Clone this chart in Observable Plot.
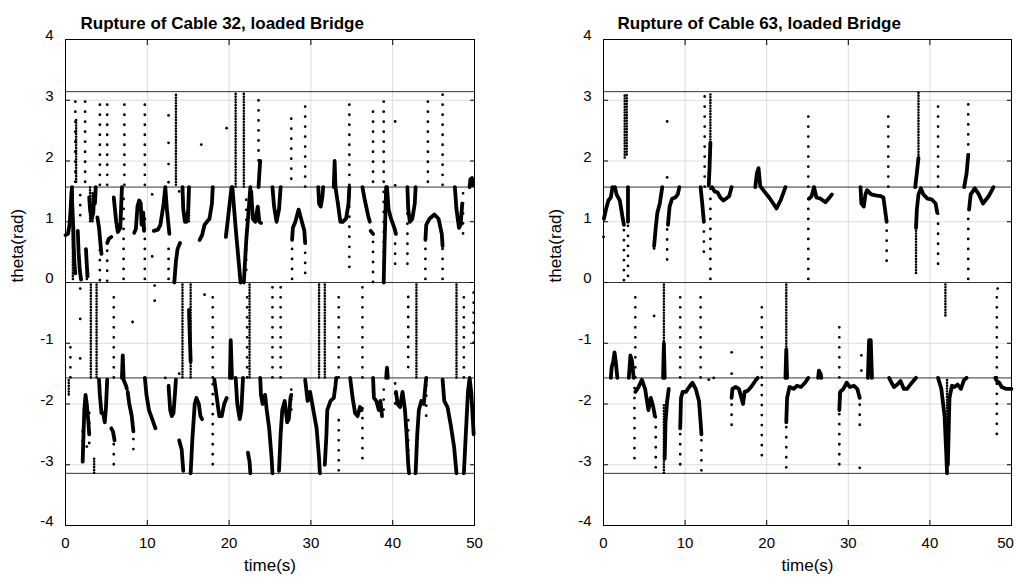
<!DOCTYPE html>
<html><head><meta charset="utf-8">
<script src="https://cdn.jsdelivr.net/npm/d3@7"></script>
<script src="https://cdn.jsdelivr.net/npm/@observablehq/plot@0.6"></script>
<style>
body{margin:0;background:#fff;font-family:"Liberation Sans",Arial,sans-serif;}
#wrap{display:flex;width:1016px;height:584px;overflow:hidden;}
</style></head><body><div id="wrap"></div>
<script>
const xTicks = [0, 10, 20, 30, 40, 50];
const yTicks = [-4, -3, -2, -1, 0, 1, 2, 3, 4];
const refLines = [-Math.PI, -Math.PI / 2, 0, Math.PI / 2, Math.PI];
const titles = ["Rupture of Cable 32, loaded Bridge", "Rupture of Cable 63, loaded Bridge"];
const xLabel = "time(s)";
const yLabel = "theta(rad)";

// ---- Cable 32: continuous traces [t, theta]
const curves32 = [
  [[0,0.78],[0.3,0.8],[0.5,0.95],[0.6,1.15],[0.7,1.4],[0.8,1.57]],
  [[0.75,1.5],[0.85,1.2],[0.95,0.9],[1.0,0.6],[1.1,0.3],[1.2,0.15]],
  [[1.5,0.85],[1.6,0.5],[1.75,0.2],[1.9,0.05]],
  [[2.5,0.55],[2.6,0.3],[2.7,0.1]],
  [[2.9,1.4],[3.0,1.2],[3.2,1.05],[3.4,1.15],[3.5,1.45],[3.6,1.3],[3.7,1.57]],
  [[3.9,1.07],[4.1,0.9],[4.3,0.6],[4.4,0.47]],
  [[5.1,0.65],[5.3,0.72],[5.6,0.75]],
  [[5.9,1.4],[6.2,1.0],[6.4,0.83],[6.7,0.9],[6.9,1.57]],
  [[8.4,0.82],[8.6,0.88],[8.8,1.25],[9.0,1.35],[9.2,1.3],[9.3,0.95],[9.5,1.15],[9.6,0.85]],
  [[10.8,0.85],[11.3,0.87],[11.6,0.95],[12.0,1.3],[12.2,1.57],[12.4,1.2],[12.7,0.8]],
  [[13.3,0.0],[13.5,0.35],[13.7,0.55],[14.0,0.65]],
  [[14.3,1.57],[14.4,1.2],[14.6,1.0],[14.8,1.0],[15.0,1.2],[15.1,1.57]],
  [[16.4,0.7],[16.7,0.78],[17.0,0.95],[17.3,1.0],[17.6,1.05],[17.9,1.3],[18.0,1.57]],
  [[19.6,0.75],[19.9,1.1],[20.3,1.57]],
  [[20.4,1.57],[20.8,0.9],[21.2,0.3],[21.4,0.0]],
  [[21.8,0.0],[22.1,0.7],[22.4,1.2],[22.6,1.57]],
  [[22.7,1.5],[22.9,1.05],[23.2,1.0],[23.5,1.25],[23.7,1.0],[23.9,0.98]],
  [[25.3,1.57],[25.5,1.25],[25.8,1.0],[26.1,1.2],[26.3,1.57]],
  [[27.7,0.7],[27.8,0.9],[28.1,1.0],[28.5,1.2],[28.9,1.0],[29.2,0.85],[29.3,0.65]],
  [[30.9,1.57],[31.0,1.3],[31.2,1.25],[31.4,1.4],[31.5,1.57]],
  [[33.0,1.57],[33.3,1.3],[33.6,1.0],[33.9,1.0],[34.3,1.05],[34.6,1.3],[34.7,1.57]],
  [[36.3,1.57],[36.6,1.35],[37.0,1.1],[37.2,1.0]],
  [[37.3,0.85],[37.6,0.8]],
  [[38.9,0.0],[39.0,0.6],[39.2,1.57]],
  [[39.3,1.57],[39.5,1.2],[39.8,1.05],[40.2,0.9],[40.4,0.8]],
  [[41.8,1.57],[41.9,1.2],[42.1,1.0],[42.4,1.05],[42.7,1.3],[42.8,1.57]],
  [[44.0,0.7],[44.1,0.95],[44.5,1.05],[45.1,1.12],[45.6,1.05],[46.0,0.8],[46.1,0.6]],
  [[47.6,1.57],[47.8,1.2],[48.1,0.9],[48.3,0.95],[48.5,1.3]],
  [[23.6,1.57],[23.7,1.8],[23.8,2.0]],
  [[32.8,1.57],[32.9,2.0],[33.0,1.57]],
  [[49.4,1.57],[49.5,1.7],[49.7,1.72],[49.8,1.6]],
  [[6.9,-1.57],[7.0,-1.2],[7.1,-1.57]],
  [[20.1,-1.57],[20.2,-0.95],[20.35,-1.57]],
  [[15.1,-0.45],[15.2,-0.9],[15.3,-1.3]],
  [[39.2,-1.57],[39.3,-1.4],[39.4,-1.57]],
  [[2.1,-2.95],[2.2,-2.5],[2.3,-2.1],[2.45,-1.85],[2.6,-2.0],[2.8,-2.3],[2.9,-2.5]],
  [[4.1,-1.6],[4.2,-1.85],[4.4,-2.15],[4.6,-2.15],[4.8,-2.3],[4.95,-2.05],[5.1,-1.6]],
  [[5.6,-2.4],[5.8,-2.45],[6.0,-2.6]],
  [[7.1,-1.6],[7.4,-1.7],[7.5,-1.75]],
  [[7.6,-1.8],[7.8,-2.0],[8.1,-2.2],[8.3,-2.45]],
  [[9.7,-1.57],[9.9,-1.85],[10.2,-2.1],[10.6,-2.25],[11.0,-2.4]],
  [[12.6,-1.7],[12.8,-2.1],[13.0,-2.2],[13.2,-2.15],[13.4,-1.8],[13.5,-1.6]],
  [[13.9,-2.6],[14.2,-2.75],[14.4,-3.1]],
  [[15.3,-3.14],[15.5,-2.6],[15.8,-2.0],[16.0,-1.9],[16.3,-2.0],[16.5,-2.2],[16.7,-2.25]],
  [[18.2,-1.6],[18.5,-1.9],[18.8,-2.2],[19.1,-2.2],[19.4,-2.0],[19.7,-1.9]],
  [[20.8,-1.57],[21.0,-2.0],[21.3,-2.25],[21.5,-2.1],[21.7,-1.57]],
  [[22.3,-2.8],[22.5,-2.95],[22.6,-3.14]],
  [[23.8,-1.57],[23.9,-1.85],[24.1,-2.0],[24.4,-1.85],[24.6,-2.1],[24.9,-2.4],[25.2,-2.9],[25.3,-3.14]],
  [[26.1,-3.1],[26.3,-2.5],[26.5,-2.1],[26.8,-1.95],[27.1,-2.3],[27.3,-2.25],[27.5,-1.9],[27.6,-1.85]],
  [[29.3,-1.6],[29.6,-1.95],[29.9,-1.8],[30.3,-2.1],[30.7,-2.4],[31.0,-2.9],[31.1,-3.14]],
  [[31.7,-3.0],[31.9,-2.5],[32.0,-2.1],[32.4,-1.95],[32.8,-1.9],[33.0,-1.7],[33.1,-1.57]],
  [[34.8,-1.57],[35.1,-1.9],[35.4,-2.15],[35.7,-2.2],[36.0,-2.05],[36.2,-2.1]],
  [[37.6,-1.57],[37.7,-1.9],[38.0,-1.95],[38.3,-2.1],[38.5,-1.95],[38.7,-2.2]],
  [[40.4,-1.8],[40.6,-2.0],[40.9,-2.05],[41.2,-1.8],[41.5,-2.1],[41.7,-2.5],[41.9,-3.0],[42.0,-3.14]],
  [[42.8,-3.14],[43.0,-2.5],[43.2,-2.1],[43.5,-1.95],[43.8,-2.0],[44.0,-1.7],[44.1,-1.57]],
  [[46.1,-1.6],[46.3,-1.95],[46.7,-2.05],[47.1,-2.35],[47.5,-2.7],[47.8,-3.14]],
  [[48.7,-3.14],[48.9,-2.6],[49.2,-1.8],[49.4,-1.57],[49.6,-1.8],[49.9,-2.5]]
];
// sampled dot columns [t, from, to]
const sparse32 = [
  [1.2,1.65,3.1],[2.4,1.65,3.05],[4.2,1.6,2.95],[5.1,1.6,3.0],[7.2,1.6,2.95],[9.7,1.6,3.0],
  [23.6,2.0,3.0],[27.6,1.7,2.75],[29.3,1.57,3.05],[34.7,1.6,3.0],[37.6,1.65,2.9],[38.9,1.65,3.0],
  [44.3,1.65,3.05],[46.1,1.6,3.1],
  [1.8,1.1,1.5],[4.2,0.03,0.55],[5.1,0.02,0.65],[7.1,0.05,1.4],[9.7,0.05,1.05],[12.6,0.05,0.6],
  [22.1,0.2,1.5],[27.7,0.05,0.7],[29.3,0.15,0.7],[34.7,0.25,1.57],[37.6,0.0,0.8],[38.9,0.0,1.5],
  [40.3,0.3,0.8],[41.8,0.3,1.57],[44.0,0.05,0.7],[46.1,0.05,0.7],[48.6,0.8,1.57],
  [0.6,-1.57,-1.0],[5.9,-1.57,-0.15],[18.0,-1.57,-0.15],[22.2,-1.57,-0.1],[25.3,-1.57,-0.05],
  [26.3,-1.57,-0.05],[33.4,-1.57,-0.15],[36.3,-1.57,-0.05],[41.9,-1.4,-0.1],[48.7,-1.57,-0.1],
  [49.9,-1.0,-0.05],
  [2.1,-2.95,-2.3],[2.9,-2.65,-2.0],[5.9,-3.0,-2.6],[8.3,-2.75,-2.45],[18.0,-3.0,-1.6],
  [27.6,-2.1,-1.7],[33.4,-3.1,-2.2],[36.3,-2.9,-2.0],[38.9,-2.1,-1.7],[40.3,-2.0,-1.6],
  [41.9,-3.1,-2.2],[44.1,-2.2,-1.6]
];
const dense32 = [
  [13.5,1.6,3.1],[20.8,1.57,3.1],[21.8,1.57,3.1],[1.3,1.65,2.7],
  [0.9,0.05,1.5],[2.6,0.05,0.55],[3.0,1.0,1.57],[3.3,1.0,1.5],[15.1,1.0,1.57],
  [3.1,-1.57,0.0],[3.8,-1.57,0.0],[14.3,-1.57,0.0],[15.3,-1.57,0.0],[22.5,-1.57,0.0],
  [31.0,-1.57,0.0],[31.7,-1.57,0.0],[42.9,-1.57,0.0],[47.8,-1.57,0.0],
  [3.5,-3.14,-2.9],[0.4,-1.85,-1.6]
];
const dots32 = [
  [1.8,-0.1],[1.8,-0.6],[1.8,-1.25],[8.2,-0.65],[10.9,-0.05],[10.9,-0.3],[10.6,1.45],[10.6,0.43],
  [16.6,2.27],[19.7,2.54],[12.6,2.75],[12.6,2.3],[12.6,1.95],[12.6,1.65],[40.3,2.65],[40.3,1.6],
  [13.9,1.5],[13.9,-1.5],[2.6,-2.7],[12.2,-1.57],[17.0,-0.2]
];

// ---- Cable 63
const curves63 = [
  [[0.05,1.05],[0.3,1.2],[0.6,1.35],[0.9,1.4],[1.1,1.57]],
  [[1.4,1.57],[1.6,1.45],[2.0,1.35],[2.3,1.1],[2.5,0.95]],
  [[3.0,1.57],[3.0,1.0]],
  [[6.2,0.6],[6.4,0.9],[6.6,1.15],[6.9,1.3],[7.2,1.57]],
  [[7.9,0.95],[8.1,1.25],[8.4,1.38],[8.8,1.4],[9.1,1.45],[9.3,1.57]],
  [[11.9,1.57],[12.1,1.3],[12.3,1.0]],
  [[13.3,1.57],[13.6,1.5],[14.0,1.48],[14.3,1.4],[14.7,1.35],[15.0,1.38],[15.4,1.42],[15.7,1.57]],
  [[19.3,1.57],[19.7,1.5],[20.3,1.4],[20.8,1.3],[21.2,1.22],[21.7,1.35],[22.3,1.57]],
  [[25.2,1.38],[25.5,1.42],[25.8,1.57],[26.1,1.4],[26.6,1.38],[27.2,1.32],[27.7,1.4],[28.0,1.45]],
  [[31.5,1.57],[31.6,1.3],[31.9,1.25],[32.1,1.45],[32.3,1.52],[32.8,1.45],[33.5,1.43],[34.0,1.42],[34.3,1.4],[34.5,1.2],[34.7,1.0]],
  [[38.3,0.9],[38.4,1.2],[38.6,1.45],[38.9,1.55],[39.2,1.45],[39.7,1.38],[40.2,1.37],[40.7,1.3],[40.9,1.15]],
  [[44.8,1.2],[45.0,1.45],[45.5,1.55],[46.0,1.45],[46.5,1.3],[47.2,1.42],[47.8,1.57]],
  [[12.9,1.6],[13.0,1.9],[13.1,2.3]],
  [[18.6,1.57],[18.8,1.8],[19.0,1.88],[19.2,1.6]],
  [[38.2,1.57],[38.4,1.8],[38.6,2.05]],
  [[44.2,1.57],[44.5,1.8],[44.7,2.1]],
  [[0.9,-1.57],[1.0,-1.4],[1.2,-1.3],[1.35,-1.15],[1.5,-1.3],[1.7,-1.57]],
  [[3.1,-1.57],[3.3,-1.2],[3.5,-1.3],[3.7,-1.57]],
  [[7.3,-1.57],[7.4,-1.0],[7.5,-1.57]],
  [[26.3,-1.57],[26.4,-1.45],[26.6,-1.5],[26.7,-1.57]],
  [[32.4,-1.57],[32.55,-0.95],[32.75,-0.95],[32.9,-1.57]],
  [[22.3,-1.57],[22.4,-1.1],[22.5,-1.57]],
  [[3.9,-1.8],[4.3,-1.72],[4.7,-1.6],[5.1,-1.75],[5.5,-2.1],[5.8,-1.9],[6.1,-2.05],[6.3,-2.2]],
  [[7.5,-2.9],[7.6,-2.3],[7.8,-1.95],[8.0,-1.75]],
  [[9.4,-2.4],[9.5,-1.9],[9.7,-1.8],[10.1,-1.8],[10.5,-1.72],[10.9,-1.65],[11.3,-1.75],[11.7,-1.95],[11.9,-2.3],[12.0,-2.5]],
  [[15.7,-1.9],[15.8,-1.75],[16.2,-1.72],[16.6,-1.75],[16.9,-1.9],[17.1,-2.0],[17.3,-1.8],[17.7,-1.78],[18.2,-1.7],[18.7,-1.6],[18.9,-1.57]],
  [[22.4,-2.3],[22.5,-1.9],[22.8,-1.72],[23.3,-1.75],[23.7,-1.7],[24.2,-1.72],[24.7,-1.65],[25.1,-1.57]],
  [[28.9,-2.1],[29.0,-1.8],[29.4,-1.75],[29.8,-1.65],[30.2,-1.72],[30.7,-1.7],[31.1,-1.75],[31.4,-1.9]],
  [[35.0,-1.57],[35.3,-1.65],[35.6,-1.72],[36.0,-1.68],[36.4,-1.62],[36.8,-1.75],[37.2,-1.75],[37.6,-1.68],[38.1,-1.6],[38.3,-1.57]],
  [[41.0,-1.57],[41.4,-1.75],[41.8,-2.2],[42.0,-2.8],[42.1,-3.14]],
  [[42.2,-3.0],[42.4,-1.9],[42.7,-1.7],[43.0,-1.72],[43.4,-1.68],[43.8,-1.75],[44.2,-1.6],[44.5,-1.57]],
  [[48.0,-1.57],[48.2,-1.62],[48.5,-1.65],[48.8,-1.72],[49.3,-1.75],[50.0,-1.75]]
];
const sparse63 = [
  [12.4,1.57,3.1],[25.1,1.57,2.8],[34.9,1.57,2.78],[41.0,1.57,2.95],[44.7,2.1,3.05],
  [2.5,0.03,0.95],[3.0,0.1,1.0],[6.2,0.55,0.7],[7.8,0.37,0.95],[12.3,0.5,1.0],[13.1,0.05,1.57],
  [25.1,0.05,1.5],[34.7,0.35,1.0],[41.0,0.3,1.15],[44.7,0.05,1.2],
  [3.9,-1.57,-0.2],[9.4,-1.57,-0.1],[11.9,-1.57,-0.15],[19.4,-1.57,-0.35],[28.9,-1.57,-0.6],
  [48.2,-1.57,-0.1],
  [3.8,-2.9,-1.6],[6.4,-3.05,-2.1],[9.4,-3.0,-1.9],[12.0,-3.1,-2.3],[15.7,-2.35,-1.9],
  [19.4,-2.85,-1.57],[22.4,-3.05,-2.1],[28.9,-3.0,-1.8],[31.4,-2.35,-1.9],[48.2,-2.5,-1.6]
];
const dense63 = [
  [2.6,2.05,3.1],[2.85,2.1,3.1],[13.1,2.3,3.1],[38.6,2.05,3.14],
  [38.3,0.15,0.9],
  [7.4,-1.57,0.0],[22.4,-1.57,0.0],[41.9,-0.55,0.0],
  [42.1,-3.14,-1.6],[7.4,-3.14,-2.0]
];
const dots63 = [
  [0,0.75],[7.8,2.65],[7.8,1.73],[15.7,-1.15],[15.7,-1.5],[31.6,-1.2],[31.6,-1.45],[31.4,-3.05],
  [6.2,-0.55],[12.9,-1.6],[13.5,-1.57],[48.3,-0.1]
];

function panel(title, curves, sparse, dense, dots, marginLeft, marginRight, titleDx, shiftLast) {
  const rows = curves.flatMap((seg, i) => seg.map(([t, v]) => ({seg: i, t, v})));
  const col = (arr) => arr.map(([t, a, b]) => ({t, a, b}));
  const pts = dots.map(([t, v]) => ({t, v}));
  const fmt = (d) => String(d);
  const xMain = shiftLast ? xTicks.slice(0, -1) : xTicks;
  return Plot.plot({
    width: 508, height: 584,
    marginTop: 39, marginBottom: 59, marginLeft, marginRight,
    x: {domain: [0, 50]},
    y: {domain: [-4, 4]},
    style: {fontFamily: "'Liberation Sans', Arial, sans-serif", fontSize: "15px", color: "#000", background: "#fff", overflow: "visible"},
    marks: [
      Plot.gridX(xTicks.slice(1, -1), {stroke: "#dcdcdc", strokeOpacity: 1}),
      Plot.gridY(yTicks.slice(1, -1), {stroke: "#dcdcdc", strokeOpacity: 1}),
      Plot.ruleY(refLines, {stroke: "#333", strokeWidth: 1}),
      Plot.ruleX(col(sparse), {x: "t", y1: "a", y2: "b", stroke: "#000", strokeWidth: 2.8, strokeLinecap: "round", strokeDasharray: "0.01,10"}),
      Plot.ruleX(col(dense), {x: "t", y1: "a", y2: "b", stroke: "#000", strokeWidth: 2.6, strokeLinecap: "round", strokeDasharray: "0.01,2.8"}),
      Plot.dot(pts, {x: "t", y: "v", r: 1.4, fill: "#000", stroke: null}),
      Plot.line(rows, {x: "t", y: "v", z: "seg", stroke: "#000", strokeWidth: 3.8, strokeLinecap: "round", strokeLinejoin: "round"}),
      Plot.frame({stroke: "#000"}),
      Plot.axisX(xTicks, {anchor: "bottom", tickSize: 5, dy: -5, fill: "none", label: null}),
      Plot.axisX(xTicks, {anchor: "top", tickSize: 5, dy: 5, fill: "none", label: null}),
      Plot.axisY(yTicks, {anchor: "left", tickSize: 5, dx: 5, fill: "none", label: null}),
      Plot.axisY(yTicks, {anchor: "right", tickSize: 5, dx: -5, fill: "none", label: null}),
      Plot.axisX(xMain, {anchor: "bottom", tickSize: 0, tickPadding: 12, tickFormat: fmt, label: null}),
      shiftLast ? Plot.axisX(xTicks.slice(-1), {anchor: "bottom", tickSize: 0, tickPadding: 12, dx: -6, tickFormat: fmt, label: null}) : null,
      Plot.axisY(yTicks, {anchor: "left", tickSize: 0, tickPadding: 12, dy: -4, tickFormat: fmt, label: null}),
      Plot.text([title], {frameAnchor: "top-left", dx: titleDx, dy: -23, textAnchor: "start", fontWeight: "bold", fontSize: 17}),
      Plot.text([xLabel], {frameAnchor: "bottom", dy: 45, fontSize: 17}),
      Plot.text([yLabel], {frameAnchor: "left", dx: -48, rotate: -90, fontSize: 17})
    ]
  });
}
const wrap = document.getElementById("wrap");
wrap.append(panel(titles[0], curves32, sparse32, dense32, dots32, 65, 34, 15, false));
wrap.append(panel(titles[1], curves63, sparse63, dense63, dots63, 95, 5, 14, true));
</script></body></html>
